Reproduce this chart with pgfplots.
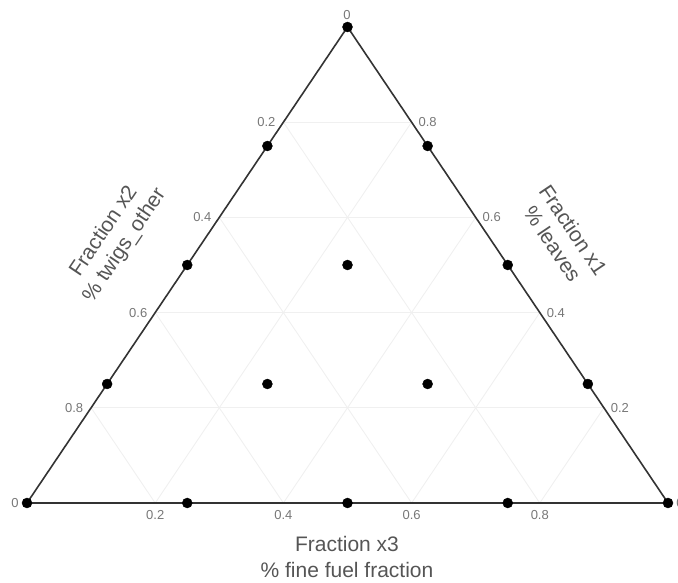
\documentclass[border=0pt]{standalone}
\usepackage{pgfplots}
\pgfplotsset{compat=1.18}
\usepackage{fontspec}
\setmainfont{Liberation Sans}
\definecolor{gridc}{HTML}{F0F0F0}
\definecolor{edgec}{HTML}{333333}
\definecolor{tickc}{HTML}{777777}
\definecolor{titlec}{HTML}{555555}
\begin{document}
\begin{tikzpicture}
\path[use as bounding box] (-27pt,-80pt) rectangle (651pt,503pt);
\begin{axis}[
  scale only axis, width=641pt, height=476pt,
  xmin=0, xmax=1, ymin=0, ymax=1,
  axis lines=none, clip=false,
]
% grid lines
\addplot[gridc, line width=0.9pt] coordinates {(0.1,0.2) (0.9,0.2)};
\addplot[gridc, line width=0.9pt] coordinates {(0.2,0.4) (0.8,0.4)};
\addplot[gridc, line width=0.9pt] coordinates {(0.3,0.6) (0.7,0.6)};
\addplot[gridc, line width=0.9pt] coordinates {(0.4,0.8) (0.6,0.8)};
\addplot[gridc, line width=0.9pt] coordinates {(0.2,0) (0.6,0.8)};
\addplot[gridc, line width=0.9pt] coordinates {(0.4,0) (0.7,0.6)};
\addplot[gridc, line width=0.9pt] coordinates {(0.6,0) (0.8,0.4)};
\addplot[gridc, line width=0.9pt] coordinates {(0.8,0) (0.9,0.2)};
\addplot[gridc, line width=0.9pt] coordinates {(0.2,0) (0.1,0.2)};
\addplot[gridc, line width=0.9pt] coordinates {(0.4,0) (0.2,0.4)};
\addplot[gridc, line width=0.9pt] coordinates {(0.6,0) (0.3,0.6)};
\addplot[gridc, line width=0.9pt] coordinates {(0.8,0) (0.4,0.8)};
% triangle
\addplot[edgec, line width=1.6pt] coordinates {(0,0) (1,0) (0.5,1) (0,0)};
% design points
\addplot[only marks, mark=*, mark size=5pt, mark options={fill=black, draw=black}] coordinates {
 (0,0) (1,0) (0.5,1)
 (0.25,0) (0.5,0) (0.75,0)
 (0.125,0.25) (0.25,0.5) (0.375,0.75)
 (0.625,0.75) (0.75,0.5) (0.875,0.25)
 (0.5,0.5) (0.375,0.25) (0.625,0.25)
};
\end{axis}
% tick labels
\begin{scope}[every node/.style={text=tickc, font=\fontsize{13}{15}\selectfont, inner sep=0pt}]
\node at (-12pt,0pt) {0};
\node at (653pt,0pt) {0};
\node at (320pt,488pt) {0};
\node at (128.2pt,-12pt) {0.2};
\node at (256.4pt,-12pt) {0.4};
\node at (384.6pt,-12pt) {0.6};
\node at (512.8pt,-12pt) {0.8};
\node at (239.4pt,380.8pt) {0.2};
\node at (175.3pt,285.6pt) {0.4};
\node at (111.2pt,190.4pt) {0.6};
\node at (47.1pt,95.2pt) {0.8};
\node at (400.6pt,380.8pt) {0.8};
\node at (464.7pt,285.6pt) {0.6};
\node at (528.8pt,190.4pt) {0.4};
\node at (592.9pt,95.2pt) {0.2};
\end{scope}
% axis titles
\begin{scope}[every node/.style={text=titlec, font=\fontsize{21}{25}\selectfont, inner sep=0pt, align=center}]
\node[anchor=base] at (320pt,-49pt) {Fraction x3};
\node[anchor=base] at (320pt,-75pt) {\% fine fuel fraction};
\node[rotate=56.1] at (87.5pt,264.5pt) {Fraction x2\\\% twigs\_other};
\node[rotate=-56.1] at (536pt,266pt) {Fraction x1\\\% leaves};
\end{scope}
\end{tikzpicture}
\end{document}
